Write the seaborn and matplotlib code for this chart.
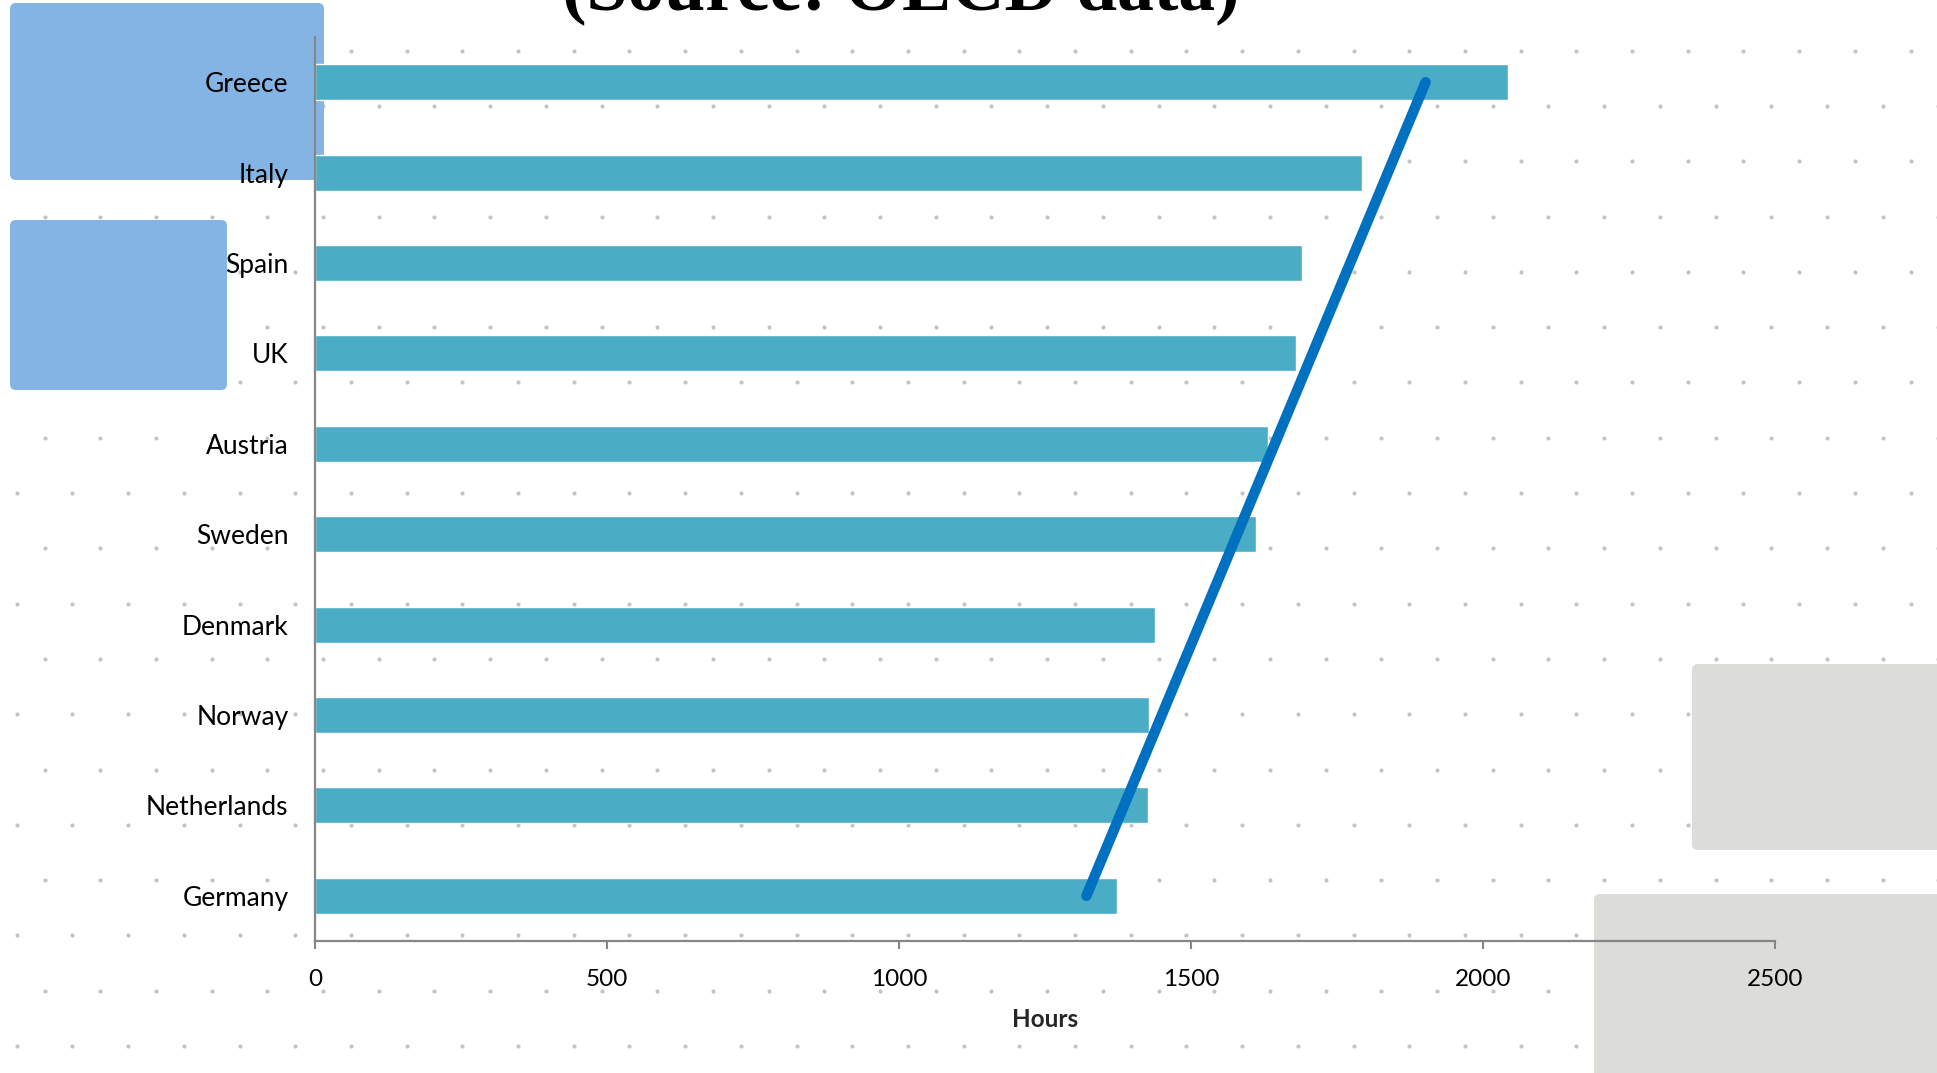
import numpy as np
import matplotlib
matplotlib.use("Agg")
import matplotlib.pyplot as plt
import seaborn as sns
from matplotlib.patches import FancyBboxPatch

# Annual hours worked per worker
countries = ["Greece", "Italy", "Spain", "UK", "Austria",
             "Sweden", "Denmark", "Norway", "Netherlands", "Germany"]
hours = [2043, 1792, 1690, 1680, 1631, 1612, 1438, 1428, 1426, 1373]
xticks = [0, 500, 1000, 1500, 2000, 2500]
title_text = "(Source: OECD data)"
xlabel_text = "Hours"

BAR_COLOR = "#4bacc6"
TREND_COLOR = "#0070c0"
W, H = 1937, 1073

sns.set_theme(style="white")
plt.rcParams["font.family"] = ["Lato", "DejaVu Sans"]

fig = plt.figure(figsize=(W / 100, H / 100), dpi=100)
fig.patch.set_facecolor("white")

# --- decorative background (dot texture + paint patches), in pixel coords ---
bg = fig.add_axes([0, 0, 1, 1], zorder=0)
bg.set_xlim(0, W)
bg.set_ylim(H, 0)
bg.axis("off")

row_y = np.arange(-4.6, H + 10, 55.3)
dot_x, dot_y = [], []
for i, yy in enumerate(row_y):
    start = 44.5 if i % 2 == 0 else 16.7
    xs = np.arange(start, W + 10, 55.7)
    dot_x.extend(xs)
    dot_y.extend([yy] * len(xs))
bg.scatter(dot_x, dot_y, s=9, color="#c4c4c4", linewidths=0, zorder=1)

patches = [
    (10, 3, 314, 177, "#84b4e3"),
    (10, 220, 217, 170, "#84b4e3"),
    (1692, 664, 260, 186, "#dcdcd8"),
    (1594, 894, 360, 200, "#dcdcd8"),
]
for px, py, pw, ph, pc in patches:
    bg.add_patch(FancyBboxPatch((px + 6, py + 6), pw - 12, ph - 12,
                                boxstyle="round,pad=6", facecolor=pc,
                                edgecolor="none", zorder=2))

# --- main chart ---
ax = fig.add_axes([315 / W, 1 - 941 / H, (1775 - 315) / W, (941 - 37) / H], zorder=1)
ax.patch.set_alpha(0)

sns.barplot(x=hours, y=countries, orient="h", color=BAR_COLOR,
            saturation=1, width=0.4, ax=ax, zorder=2)

# linear trend line across the categories
idx = np.arange(len(countries))
slope, intercept = np.polyfit(idx, hours, 1)
ends = np.array([idx[0], idx[-1]])
ax.plot(slope * ends + intercept, ends, color=TREND_COLOR, linewidth=7.5,
        solid_capstyle="round", zorder=3)

ax.set_xlim(0, 2500)
ax.set_ylim(len(countries) - 0.5, -0.5)
ax.set_xticks(xticks)
ax.set_xticklabels([str(t) for t in xticks], fontsize=17.5, color="black")
ax.tick_params(axis="x", direction="out", length=6, width=1.5,
               color="#868686", pad=14, bottom=True)
ax.tick_params(axis="y", length=0, pad=19, labelsize=19, labelcolor="black")
ax.set_ylabel("")
ax.set_xlabel(xlabel_text, fontsize=17.5, fontweight="bold", labelpad=13)

for side in ["top", "right"]:
    ax.spines[side].set_visible(False)
for side in ["left", "bottom"]:
    ax.spines[side].set_color("#868686")
    ax.spines[side].set_linewidth(1.6)
    ax.spines[side].set_zorder(4)
ax.grid(False)

# title, mostly clipped at the top edge as in the original
fig.text(901 / W, 1 - 9 / H, title_text, ha="center", va="baseline",
         fontsize=53, fontweight="bold", family=["Liberation Serif", "DejaVu Serif"],
         color="black")

fig.savefig("out.png", dpi=100)
